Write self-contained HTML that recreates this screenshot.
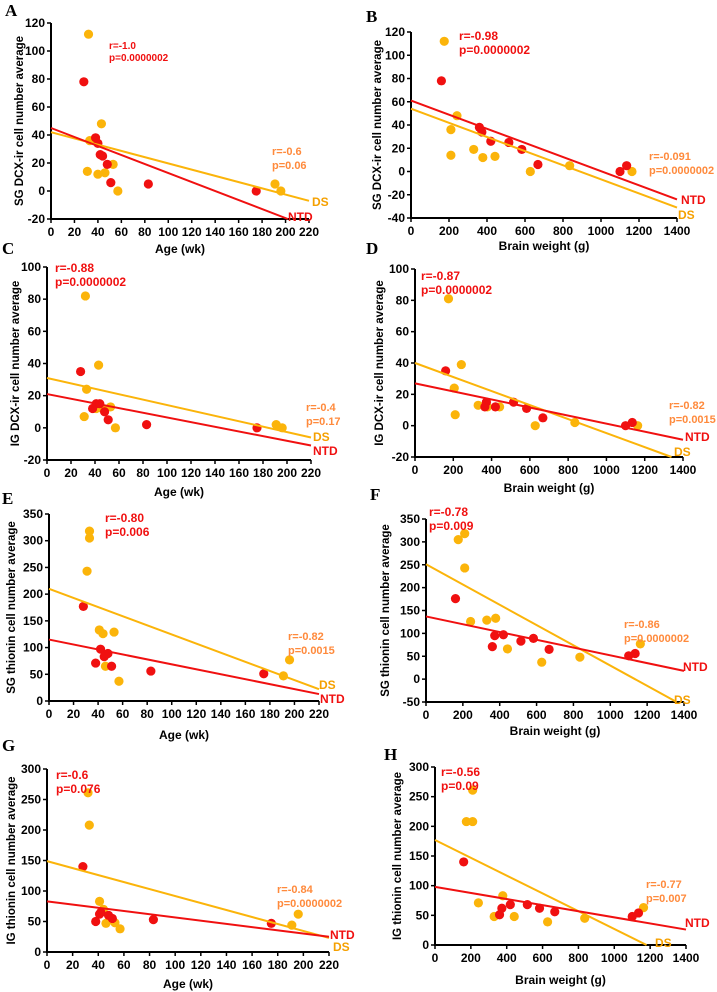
<!DOCTYPE html>
<html><head><meta charset="utf-8"><style>
body{margin:0;background:#fff}
svg{display:block;font-family:"Liberation Sans",Arial,sans-serif}
</style></head><body>
<svg id="fig" width="717" height="992" viewBox="0 0 717 992"></svg>
<script>
// Data arrays
const ageDS_A=[32,33,31,40,43,46,53,57,191,196];
const valDS_A=[112,36,14,12,48,13,19,0,5,0];
const ageNTD_A=[28,38,40,42,44,48,51,83,175];
const valNTD_A=[78,38,34,26,25,19,6,5,0];
const bwDS_B=[175,210,210,242,330,378,442,628,835,1163];
const valDS_B=[112,36,14,48,19,12,13,0,5,0];
const bwNTD_B=[160,360,373,420,515,583,668,1100,1135];
const valNTD_B=[78,38,34,26,25,19,6,0,5];
const ageDS_C=[32,33,31,43,41,46,53,57,191,196];
const valDS_C=[82,24,7,39,12,12,13,0,2,0];
const ageNTD_C=[28,38,41,44,48,51,83,175];
const valNTD_C=[35,12,15,15,10,5,2,0];
const bwDS_D=[175,205,210,242,330,378,442,628,835,1163];
const valDS_D=[81,24,7,39,13,12,12,0,2,0];
const bwNTD_D=[160,365,373,420,515,583,668,1100,1135];
const valNTD_D=[35,12,15,12,15,11,5,0,2];
const ageDS_E=[33,33,31,41,44,53,46,57,191,196];
const valDS_E=[318,305,243,133,126,129,65,37,47,77];
const ageNTD_E=[28,38,42,45,48,51,83,175];
const valNTD_E=[177,71,97,83,89,65,56,51];
const bwDS_F=[175,210,210,242,330,378,442,628,835,1163];
const valDS_F=[305,318,243,126,129,133,66,37,48,77];
const bwNTD_F=[160,360,373,420,515,583,668,1100,1135];
const valNTD_F=[176,71,95,97,83,89,65,51,56];
const ageDS_G=[32,33,41,44,46,53,57,191,196];
const valDS_G=[261,208,83,70,47,48,38,44,62];
const ageNTD_G=[28,38,41,42,48,51,83,175];
const valNTD_G=[140,50,62,65,60,55,53,47];
const bwDS_H=[175,210,210,242,330,378,442,628,835,1163];
const valDS_H=[208,208,261,71,48,83,48,39,45,63];
const bwNTD_H=[160,360,373,420,515,583,668,1100,1135];
const valNTD_H=[140,51,62,68,68,62,56,48,54];
// Regression line endpoints [x0,y0,x1,y1]
const fitNTD_A=[0,45,202,-20], fitDS_A=[0,42,220,-7];
const fitNTD_B=[0,61,1400,-24], fitDS_B=[0,54,1400,-31];
const fitNTD_C=[0,21,220,-11], fitDS_C=[0,31,220,-6];
const fitNTD_D=[0,27,1400,-9], fitDS_D=[0,40,1340,-20];
const fitNTD_E=[0,115,220,13], fitDS_E=[0,210,220,22];
const fitNTD_F=[0,137,1400,18], fitDS_F=[0,251,1360,-50];
const fitNTD_G=[0,83,220,25], fitDS_G=[0,149,220,23];
const fitNTD_H=[0,98,1400,26], fitDS_H=[0,177,1180,0];
const ageTicks=[0,20,40,60,80,100,120,140,160,180,200,220];
const bwTicks=[0,200,400,600,800,1000,1200,1400];
const statsNTD=[["r=-1.0","p=0.0000002"],["r=-0.98","p=0.0000002"],["r=-0.88","p=0.0000002"],["r=-0.87","p=0.0000002"],["r=-0.80","p=0.006"],["r=-0.78","p=0.009"],["r=-0.6","p=0.076"],["r=-0.56","p=0.09"]];
const statsDS=[["r=-0.6","p=0.06"],["r=-0.091","p=0.0000002"],["r=-0.4","p=0.17"],["r=-0.82","p=0.0015"],["r=-0.82","p=0.0015"],["r=-0.86","p=0.0000002"],["r=-0.84","p=0.0000002"],["r=-0.77","p=0.007"]];

const RED="#f01010", ORG="#fbb40a", OTXT="#ff8a3c";
const NS="http://www.w3.org/2000/svg";
const svg=document.getElementById('fig');
function mk(tag,attrs,parent,text){const e=document.createElementNS(NS,tag);for(const k in attrs)e.setAttribute(k,attrs[k]);if(text!==undefined)e.textContent=text;(parent||svg).appendChild(e);return e;}

const panels=[
 {L:"A",px:[51,309],py:[23,219],xd:[0,220],yd:[-20,120],yt:[-20,0,20,40,60,80,100,120],xt:ageTicks,ytl:"SG DCX-ir cell number average",xtl:"Age (wk)",xtly:253,ytx:20,lp:[5,16],
  ds:[ageDS_A,valDS_A],ntd:[ageNTD_A,valNTD_A],fn:fitNTD_A,fd:fitDS_A,rp:[109,49,10],op:[272,155,11],dsl:[312,206],ntl:[288,221]},
 {L:"B",px:[411,677],py:[32,218],xd:[0,1400],yd:[-40,120],yt:[-40,-20,0,20,40,60,80,100,120],xt:bwTicks,ytl:"SG DCX-ir cell  number average",xtl:"Brain weight (g)",xtly:250,ytx:378,lp:[366,22],
  ds:[bwDS_B,valDS_B],ntd:[bwNTD_B,valNTD_B],fn:fitNTD_B,fd:fitDS_B,rp:[459,40,12],op:[649,160,11],dsl:[678,219],ntl:[681,204]},
 {L:"C",px:[47,311],py:[267,460],xd:[0,220],yd:[-20,100],yt:[-20,0,20,40,60,80,100],xt:ageTicks,ytl:"IG DCX-ir cell number average",xtl:"Age (wk)",xtly:496,ytx:16,lp:[2,254],
  ds:[ageDS_C,valDS_C],ntd:[ageNTD_C,valNTD_C],fn:fitNTD_C,fd:fitDS_C,rp:[55,272,12],op:[306,411,11],dsl:[313,441],ntl:[313,455]},
 {L:"D",px:[415,683],py:[269,457],xd:[0,1400],yd:[-20,100],yt:[-20,0,20,40,60,80,100],xt:bwTicks,ytl:"IG DCX-ir cell number average",xtl:"Brain weight (g)",xtly:492,ytx:380,lp:[366,254],
  ds:[bwDS_D,valDS_D],ntd:[bwNTD_D,valNTD_D],fn:fitNTD_D,fd:fitDS_D,rp:[421,280,12],op:[669,409,11],dsl:[674,456],ntl:[685,441]},
 {L:"E",px:[49,319],py:[514,701],xd:[0,220],yd:[0,350],yt:[0,50,100,150,200,250,300,350],xt:ageTicks,ytl:"SG thionin cell number average",xtl:"Age (wk)",xtly:739,ytx:12,lp:[2,504],
  ds:[ageDS_E,valDS_E],ntd:[ageNTD_E,valNTD_E],fn:fitNTD_E,fd:fitDS_E,rp:[105,522,12],op:[288,640,11],dsl:[319,689],ntl:[320,703]},
 {L:"F",px:[426,684],py:[519,702],xd:[0,1400],yd:[-50,350],yt:[-50,0,50,100,150,200,250,300,350],xt:bwTicks,ytl:"SG thionin cell number average",xtl:"Brain weight (g)",xtly:735,ytx:386,lp:[370,500],
  ds:[bwDS_F,valDS_F],ntd:[bwNTD_F,valNTD_F],fn:fitNTD_F,fd:fitDS_F,rp:[429,516,12],op:[624,628,11],dsl:[674,704],ntl:[683,671]},
 {L:"G",px:[47,329],py:[769,952],xd:[0,220],yd:[0,300],yt:[0,50,100,150,200,250,300],xt:ageTicks,ytl:"IG thionin cell number average",xtl:"Age (wk)",xtly:988,ytx:12,lp:[2,751],
  ds:[ageDS_G,valDS_G],ntd:[ageNTD_G,valNTD_G],fn:fitNTD_G,fd:fitDS_G,rp:[56,779,12],op:[277,893,11],dsl:[333,951],ntl:[330,939]},
 {L:"H",px:[435,686],py:[767,945],xd:[0,1400],yd:[0,300],yt:[0,50,100,150,200,250,300],xt:bwTicks,ytl:"IG thionin cell number average",xtl:"Brain weight (g)",xtly:984,ytx:398,lp:[384,760],
  ds:[bwDS_H,valDS_H],ntd:[bwNTD_H,valNTD_H],fn:fitNTD_H,fd:fitDS_H,rp:[441,776,12],op:[646,888,11],dsl:[655,947],ntl:[685,927]}
];

panels.forEach((p,i)=>{
 const g=mk('g',{});
 
 
 const sx=v=>p.px[0]+(v-p.xd[0])/(p.xd[1]-p.xd[0])*(p.px[1]-p.px[0]);
 const sy=v=>p.py[1]-(v-p.yd[0])/(p.yd[1]-p.yd[0])*(p.py[1]-p.py[0]);
 const lt=mk('text',{x:p.lp[0],y:p.lp[1],'font-family':'"Liberation Serif",serif','font-weight':'bold','font-size':17},g,p.L);
 
 
 const ax=mk('path',{d:`M${p.px[0]},${p.py[0]}V${p.py[1]}H${p.px[1]}`,stroke:'#000','stroke-width':2,fill:'none'},g);
 
 
 p.yt.forEach(v=>{
  mk('line',{x1:p.px[0]-4,x2:p.px[0],y1:sy(v),y2:sy(v),stroke:'#000','stroke-width':1.5},g);
  const t=mk('text',{x:p.px[0]-6,y:sy(v)+4,'text-anchor':'end','font-size':12,'font-weight':'bold'},g,String(v));
  
  
 });
 p.xt.forEach(v=>{
  mk('line',{x1:sx(v),x2:sx(v),y1:p.py[1],y2:p.py[1]+4,stroke:'#000','stroke-width':1.5},g);
  const t=mk('text',{x:sx(v),y:p.py[1]+17,'text-anchor':'middle','font-size':12,'font-weight':'bold'},g,String(v));
  
  
 });
 const yc=(p.py[0]+p.py[1])/2;
 const yt=mk('text',{x:p.ytx,y:yc,'text-anchor':'middle','font-size':11.5,'font-weight':'bold',transform:`rotate(-90 ${p.ytx} ${yc})`,'dominant-baseline':'middle'},g,p.ytl);
 
 
 const xt=mk('text',{x:(p.px[0]+p.px[1])/2,y:p.xtly,'text-anchor':'middle','font-size':12,'font-weight':'bold'},g,p.xtl);
 
 
 p.ds[0].forEach((x,k)=>{const c=mk('circle',{cx:sx(x),cy:sy(p.ds[1][k]),r:4.6,fill:ORG},g);
  
  });
 p.ntd[0].forEach((x,k)=>{const c=mk('circle',{cx:sx(x),cy:sy(p.ntd[1][k]),r:4.6,fill:RED},g);
  
  });
 const l1=mk('line',{x1:sx(p.fd[0]),y1:sy(p.fd[1]),x2:sx(p.fd[2]),y2:sy(p.fd[3]),stroke:ORG,'stroke-width':2},g);
 
 
 const l2=mk('line',{x1:sx(p.fn[0]),y1:sy(p.fn[1]),x2:sx(p.fn[2]),y2:sy(p.fn[3]),stroke:RED,'stroke-width':2},g);
 
 
 const r1=mk('text',{x:p.rp[0],y:p.rp[1],fill:RED,'font-size':p.rp[2],'font-weight':'bold'},g);
 
 
 mk('tspan',{x:p.rp[0],dy:0},r1,statsNTD[i][0]);
 mk('tspan',{x:p.rp[0],dy:p.rp[2]+2},r1,statsNTD[i][1]);
 const r2=mk('text',{x:p.op[0],y:p.op[1],fill:OTXT,'font-size':p.op[2],'font-weight':'bold'},g);
 
 
 mk('tspan',{x:p.op[0],dy:0},r2,statsDS[i][0]);
 mk('tspan',{x:p.op[0],dy:p.op[2]+3},r2,statsDS[i][1]);
 const d=mk('text',{x:p.dsl[0],y:p.dsl[1],fill:'#f5a000','font-size':12,'font-weight':'bold'},g,'DS');
 
 
 const n=mk('text',{x:p.ntl[0],y:p.ntl[1],fill:RED,'font-size':12,'font-weight':'bold'},g,'NTD');
 
 
});
</script>
</body></html>
